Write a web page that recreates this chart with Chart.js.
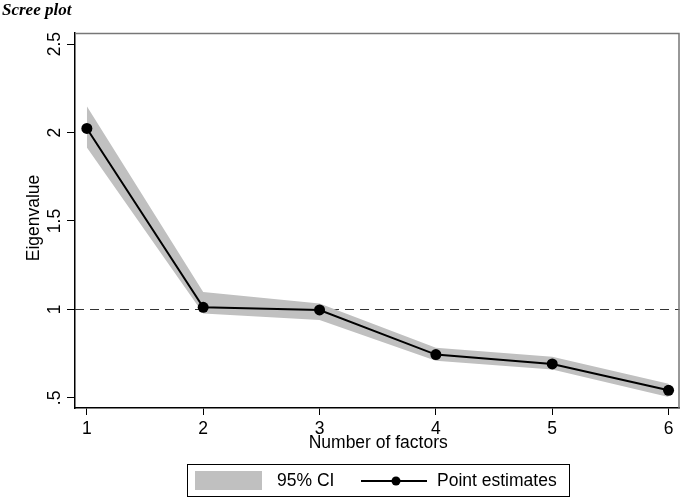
<!DOCTYPE html>
<html>
<head>
<meta charset="utf-8">
<script src="https://cdn.jsdelivr.net/npm/chart.js@4.4.1/dist/chart.umd.min.js"></script>
<style>
  html, body { margin: 0; padding: 0; background: #fff; }
  #wrap { width: 685px; height: 498px; position: relative; }
</style>
</head>
<body>
<div id="wrap"><canvas id="scree" width="685" height="498"></canvas></div>
<script>
// data
var factors = [1, 2, 3, 4, 5, 6];
var eigenvalues = [2.023, 1.012, 0.997, 0.745, 0.692, 0.543];
var ciUpper = [2.148, 1.098, 1.034, 0.784, 0.733, 0.580];
var ciLower = [1.915, 0.977, 0.940, 0.710, 0.660, 0.505];
var yTicks = [0.5, 1, 1.5, 2, 2.5];
var yTickLabels = ['.5', '1', '1.5', '2', '2.5'];

function pts(vals) {
    return factors.map(function (f, i) { return { x: f, y: vals[i] }; });
}

var sans = '"Liberation Sans", Arial, sans-serif';
var fsize = 17.5;

var extras = {
    id: 'extras',
    beforeDatasetsDraw: function (chart) {
        var ctx = chart.ctx, a = chart.chartArea, y = chart.scales.y;
        // reference line at 1
        ctx.save();
        ctx.strokeStyle = '#333';
        ctx.lineWidth = 1;
        ctx.setLineDash([9, 6]);
        var py = Math.round(y.getPixelForValue(1)) + 0.5;
        ctx.beginPath();
        ctx.moveTo(a.left, py);
        ctx.lineTo(a.right, py);
        ctx.stroke();
        ctx.restore();
    },
    afterDraw: function (chart) {
        var ctx = chart.ctx, a = chart.chartArea, y = chart.scales.y, x = chart.scales.x;
        ctx.save();
        // top + right frame
        ctx.strokeStyle = '#777';
        ctx.lineWidth = 1.5;
        ctx.beginPath();
        ctx.moveTo(a.left, a.top + 0.5);
        ctx.lineTo(a.right - 0.5, a.top + 0.5);
        ctx.lineTo(a.right - 0.5, a.bottom);
        ctx.stroke();

        // rotated y tick labels
        ctx.fillStyle = '#000';
        ctx.font = fsize + 'px ' + sans;
        ctx.textAlign = 'center';
        ctx.textBaseline = 'middle';
        yTicks.forEach(function (v, i) {
            ctx.save();
            ctx.translate(55, y.getPixelForValue(v));
            ctx.rotate(-Math.PI / 2);
            ctx.fillText(yTickLabels[i], 0, 0);
            ctx.restore();
        });
        // y title
        ctx.save();
        ctx.translate(34, 218);
        ctx.rotate(-Math.PI / 2);
        ctx.fillText('Eigenvalue', 0, 0);
        ctx.restore();

        // x title
        ctx.fillText('Number of factors', (x.getPixelForValue(1) + x.getPixelForValue(6)) / 2 + 0.5, 443);

        // title
        ctx.textAlign = 'left';
        ctx.textBaseline = 'alphabetic';
        ctx.font = 'italic bold 17px "Liberation Serif", "Times New Roman", serif';
        ctx.fillText('Scree plot', 2, 15);

        // legend
        ctx.strokeStyle = '#000';
        ctx.lineWidth = 1;
        ctx.strokeRect(187.5, 464.5, 382, 32);
        ctx.fillStyle = '#c0c0c0';
        ctx.fillRect(195, 471, 67, 19);
        ctx.fillStyle = '#000';
        ctx.font = fsize + 'px ' + sans;
        ctx.textBaseline = 'middle';
        ctx.fillText('95% CI', 277, 481);
        ctx.lineWidth = 2;
        ctx.beginPath();
        ctx.moveTo(361, 481);
        ctx.lineTo(427, 481);
        ctx.stroke();
        ctx.beginPath();
        ctx.arc(396, 481, 4.5, 0, Math.PI * 2);
        ctx.fill();
        ctx.fillText('Point estimates', 437, 481);
        ctx.restore();
    }
};

new Chart(document.getElementById('scree'), {
    type: 'line',
    data: {
        datasets: [
            {
                label: 'Point estimates',
                data: pts(eigenvalues),
                borderColor: '#000',
                backgroundColor: '#000',
                borderWidth: 2,
                pointRadius: 5.5,
                pointHoverRadius: 5.5,
                pointBorderWidth: 0,
                fill: false,
                tension: 0
            },
            {
                label: 'upper',
                data: pts(ciUpper),
                borderWidth: 0,
                borderColor: 'rgba(0,0,0,0)',
                backgroundColor: '#c0c0c0',
                pointRadius: 0,
                fill: '+1',
                tension: 0
            },
            {
                label: '95% CI',
                data: pts(ciLower),
                borderWidth: 0,
                borderColor: 'rgba(0,0,0,0)',
                pointRadius: 0,
                fill: false,
                tension: 0
            }
        ]
    },
    options: {
        responsive: false,
        animation: false,
        layout: { padding: { top: 33, right: 2, bottom: 0, left: 0 } },
        plugins: { legend: { display: false }, tooltip: { enabled: false } },
        scales: {
            x: {
                type: 'linear',
                min: 0.898,
                max: 6.094,
                afterBuildTicks: function (s) { s.ticks = factors.map(function (f) { return { value: f }; }); },
                afterFit: function (s) { s.height = 90; },
                grid: { drawOnChartArea: false, drawTicks: true, tickLength: 7, color: '#000' },
                border: { color: '#000', width: 1.5 },
                ticks: {
                    color: '#000',
                    font: { family: sans, size: fsize },
                    padding: 3.5,
                    maxRotation: 0
                }
            },
            y: {
                type: 'linear',
                min: 0.443,
                max: 2.5625,
                afterBuildTicks: function (s) { s.ticks = yTicks.map(function (v) { return { value: v }; }); },
                afterFit: function (s) { s.width = 75; },
                grid: { drawOnChartArea: false, drawTicks: true, tickLength: 8, color: '#000' },
                border: { color: '#000', width: 1.5 },
                ticks: { display: false }
            }
        }
    },
    plugins: [extras]
});
</script>
</body>
</html>
